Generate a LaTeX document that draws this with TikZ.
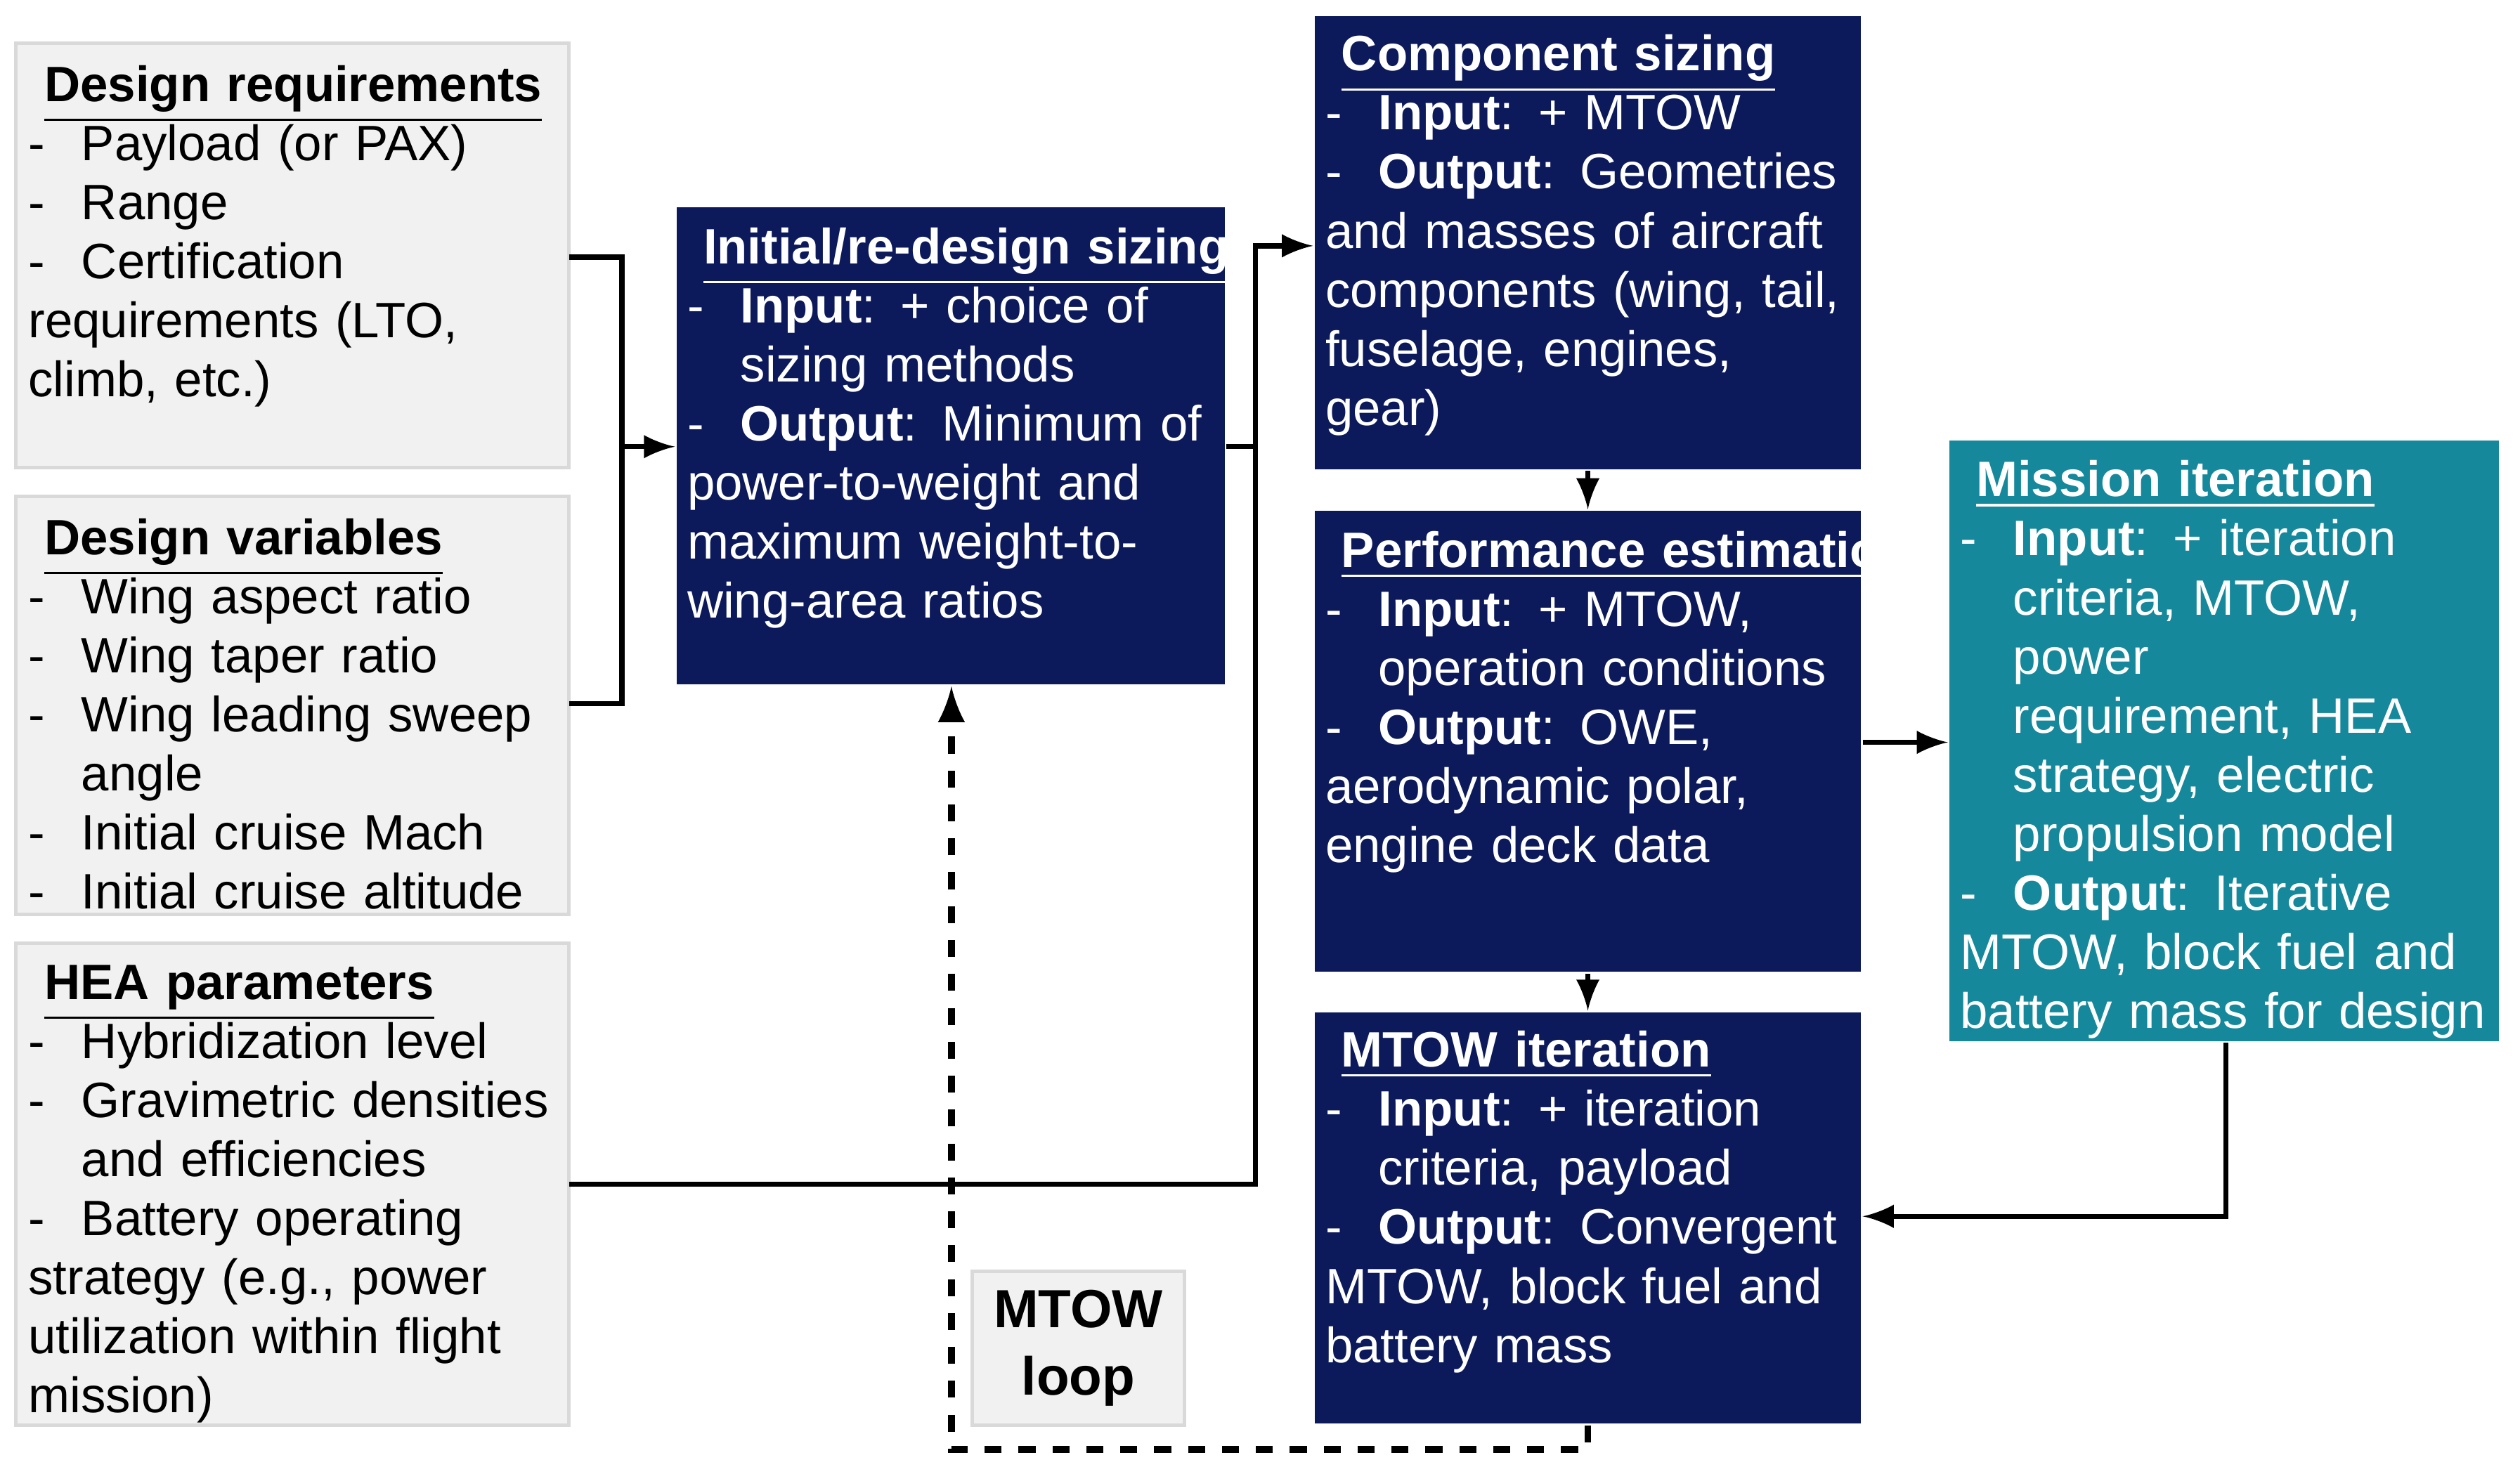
\documentclass[tikz,border=0pt]{standalone}
\usepackage{fontspec}
\setmainfont{Liberation Sans}
\usetikzlibrary{positioning}
\definecolor{navy}{HTML}{0C1A5B}
\definecolor{teal2}{HTML}{15899B}
\definecolor{lgray}{HTML}{F1F1F1}
\definecolor{bgray}{HTML}{D9D9D9}
\newcommand\itm[1]{\par\noindent\hangindent=0.33cm\hangafter=1\makebox[0.33cm][l]{-}#1}
\newcommand\ttl[1]{\noindent\hspace*{0.1cm}\underline{\textbf{#1}}}
\begin{document}
\begin{tikzpicture}[x=0.01cm,y=-0.01cm,
    gbox/.style={draw=bgray, line width=0.6pt, fill=lgray},
    dbox/.style={draw=white, line width=0.6pt, fill=navy},
    tbox/.style={draw=white, line width=0.6pt, fill=teal2},
    txt/.style={anchor=north west, inner sep=0pt, text width=#1, align=left,
        font=\fontsize{8.8}{10.45}\selectfont},
    flow/.style={line width=0.9pt, -latex}]
\useasboundingbox (0,0) rectangle (1568,913);
% boxes
\draw[gbox] (10,27) rectangle (354,291) node[pos=0] (req) {};
\draw[gbox] (10,309) rectangle (354,569) node[pos=0] (var) {};
\draw[gbox] (10,587) rectangle (354,887) node[pos=0] (hea) {};
\draw[dbox] (420,128) rectangle (763,427);
\draw[dbox] (817,9) rectangle (1159,293);
\draw[dbox] (817,317) rectangle (1159,606);
\draw[dbox] (817,629) rectangle (1159,887);
\draw[tbox] (1212,273) rectangle (1556,649);
\node[gbox, minimum width=1.32cm, minimum height=0.86cm, align=center,
    font=\fontsize{9.5}{12}\selectfont\bfseries] (loop) at (671,839) {MTOW\\loop};
% texts
\node[txt=3.3cm] (reqt) at (17,40) {\ttl{Design requirements}
  \itm{Payload (or PAX)}\itm{Range}\itm{Certification\newline requirements (LTO,\newline climb, etc.)}};
\node[txt=3.3cm] (vart) at (17,322) {\ttl{Design variables}
  \itm{Wing aspect ratio}\itm{Wing taper ratio}\itm{Wing leading sweep\newline angle}\itm{Initial cruise Mach}\itm{Initial cruise altitude}};
\node[txt=3.3cm] (heat) at (17,600) {\ttl{HEA parameters}
  \itm{Hybridization level}\itm{Gravimetric densities\newline and efficiencies}\itm{Battery operating\newline strategy (e.g., power\newline utilization within flight\newline mission)}};
\node[txt=3.3cm, text=white] (initt) at (427,141) {\ttl{Initial/re-design sizing}
  \itm{\textbf{Input}: + choice of\newline sizing methods}\itm{\textbf{Output}: Minimum of\newline power-to-weight and\newline maximum weight-to-\newline wing-area ratios}};
\node[txt=3.3cm, text=white] (compt) at (824,21) {\ttl{Component sizing}
  \itm{\textbf{Input}: + MTOW}\itm{\textbf{Output}: Geometries\newline and masses of aircraft\newline components (wing, tail,\newline fuselage, engines,\newline gear)}};
\node[txt=3.3cm, text=white] (perft) at (824,330) {\ttl{Performance estimation}
  \itm{\textbf{Input}: + MTOW,\newline operation conditions}\itm{\textbf{Output}: OWE,\newline aerodynamic polar,\newline engine deck data}};
\node[txt=3.3cm, text=white] (mtowt) at (824,641) {\ttl{MTOW iteration}
  \itm{\textbf{Input}: + iteration\newline criteria, payload}\itm{\textbf{Output}: Convergent\newline MTOW, block fuel and\newline battery mass}};
\node[txt=3.3cm, text=white] (misst) at (1219,286) {\ttl{Mission iteration}
  \itm{\textbf{Input}: + iteration\newline criteria, MTOW, power\newline requirement, HEA\newline strategy, electric\newline propulsion model}\itm{\textbf{Output}: Iterative\newline MTOW, block fuel and\newline battery mass for design\newline and reserve mission}};
% connectors
\coordinate (r1) at (354,160); \coordinate (r2) at (354,438);
\coordinate (j1) at (387,278); \coordinate (init) at (420,278);
\draw[line width=0.9pt] (r1) -| (j1) |- (r2);
\draw[flow] (j1) -- (init);
\coordinate (h1) at (354,737); \coordinate (comp) at (817,153);
\draw[flow] (h1) -| (781,153) -- (comp);
\draw[line width=0.9pt] (763,278) -- (781,278);
\draw[flow] (988,293) -- (988,317);
\draw[flow] (988,606) -- (988,629);
\draw[flow] (1159,462) -- (1212,462);
\draw[flow] (1385,649) |- (1159,757);
\draw[flow, dashed, line width=1.2pt] (988,887) |- (592,902) -- (592,427);
\end{tikzpicture}
\end{document}
